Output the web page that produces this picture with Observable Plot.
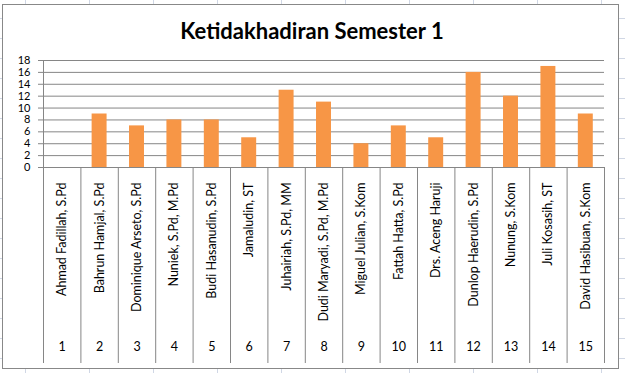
<!DOCTYPE html>
<html>
<head>
<meta charset="utf-8">
<script src="https://cdn.jsdelivr.net/npm/d3@7"></script>
<script src="https://cdn.jsdelivr.net/npm/@observablehq/plot@0.6"></script>
<style>
  html, body { margin: 0; padding: 0; width: 625px; height: 373px; overflow: hidden; }
  body {
    background-color: #fff;
    background-image:
      linear-gradient(to right, #d0d7e5 1px, transparent 1px),
      linear-gradient(to bottom, #d0d7e5 1px, transparent 1px);
    background-size: 64px 20px, 64px 20px;
    background-position: 25px 0, 0 18px;
    position: relative;
    font-family: Lato, "Open Sans", sans-serif;
  }
  #frame {
    position: absolute; left: 2px; top: 4px; width: 615px; height: 363px;
    background: #fff; border: 1px solid #888;
  }
  #chart { position: absolute; left: 0; top: 0; }
</style>
</head>
<body>
<div id="frame"></div>
<div id="chart"></div>
<script>
const titleText = "Ketidakhadiran Semester 1";
const numbers = [1, 2, 3, 4, 5, 6, 7, 8, 9, 10, 11, 12, 13, 14, 15];
const names = [
  "Ahmad Fadillah, S.Pd",
  "Bahrun Hamjal, S.Pd",
  "Dominique Arseto, S.Pd",
  "Nuniek, S.Pd, M.Pd",
  "Budi Hasanudin, S.Pd",
  "Jamaludin, ST",
  "Juhairiah, S.Pd, MM",
  "Dudi Maryadi, S.Pd, M.Pd",
  "Miguel Julian, S.Kom",
  "Fattah Hatta, S.Pd",
  "Drs. Aceng Haruji",
  "Dunlop Haerudin, S.Pd",
  "Nunung, S.Kom",
  "Juli Kosasih, ST",
  "David Hasibuan, S.Kom"
];
const absences = [0, 9, 7, 8, 8, 5, 13, 11, 4, 7, 5, 16, 12, 17, 9];
const yTicks = [0, 2, 4, 6, 8, 10, 12, 14, 16, 18];

const data = numbers.map((n, k) => ({ n, name: names[k], v: absences[k] }));
const boundaries = d3.range(0.5, numbers.length + 1, 1);
const halfBar = 0.2;
const gridColor = "#868686";

const chart = Plot.plot({
  width: 625,
  height: 373,
  marginLeft: 43,
  marginRight: 21,
  marginTop: 60,
  marginBottom: 206,
  style: { background: "transparent", fontFamily: "Lato, 'Open Sans', sans-serif", color: "#000" },
  x: { type: "linear", domain: [0.5, numbers.length + 0.5] },
  y: { domain: [0, 18] },
  marks: [
    Plot.gridY(yTicks.filter(t => t > 0), { stroke: gridColor, strokeOpacity: 1 }),
    Plot.rectY(data, { x1: d => d.n - halfBar, x2: d => d.n + halfBar, y: "v", fill: "#F79646" }),
    Plot.ruleY([0], { stroke: gridColor }),
    Plot.ruleX([0.5], { stroke: gridColor }),
    Plot.axisY({ ticks: yTicks, tickSize: 5, tickPadding: 8, fontSize: 11, stroke: gridColor, label: null }),
    Plot.axisX({ ticks: boundaries, tickSize: 196, tickFormat: () => "", stroke: gridColor, label: null }),
    Plot.axisX({ ticks: numbers, tickSize: 0, tickPadding: 15, tickRotate: -90,
      tickFormat: n => names[n - 1], fontSize: 12.5, label: null }),
    Plot.axisX({ ticks: numbers, tickSize: 0, tickPadding: 175, tickFormat: n => String(n), fontSize: 12.5, label: null }),
    Plot.text([titleText], { frameAnchor: "top", lineAnchor: "bottom", dy: -22, dx: -12,
      fontSize: 22, fontWeight: "bold", fill: "#000" })
  ]
});
document.getElementById("chart").appendChild(chart);
</script>
</body>
</html>
